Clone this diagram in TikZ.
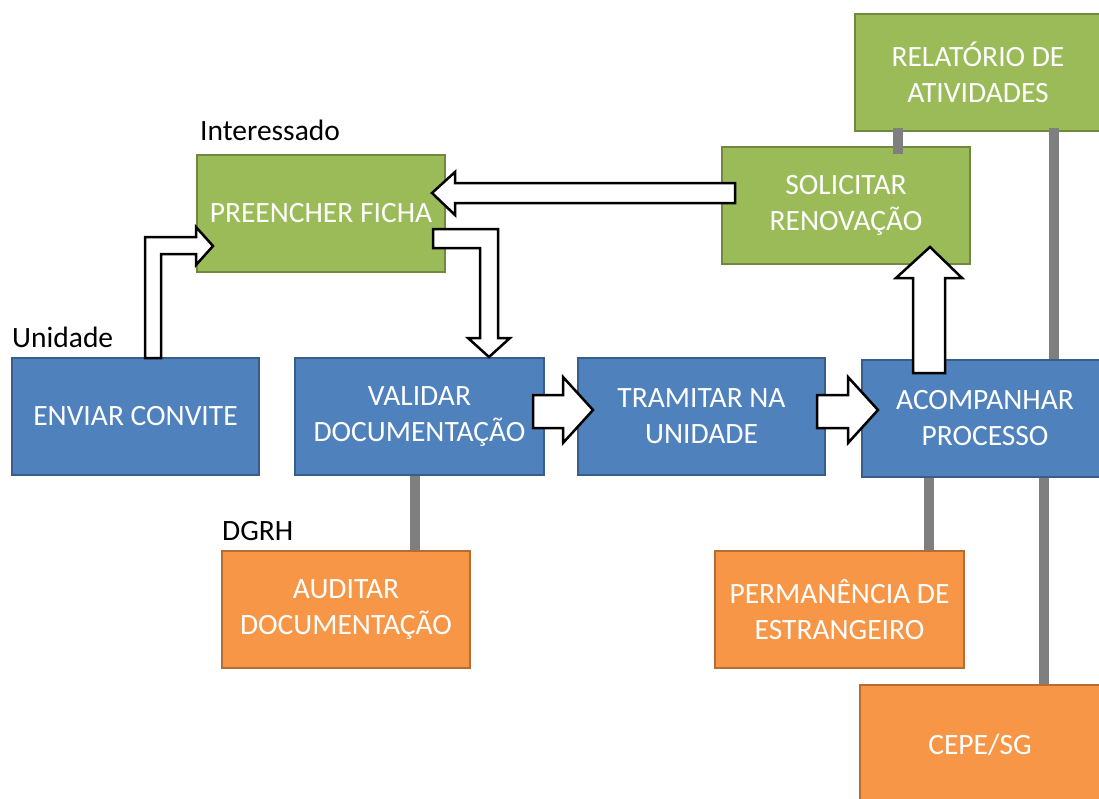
\documentclass[tikz,border=0pt]{standalone}
\usepackage{fontspec}
\setmainfont{Carlito}
\definecolor{gfill}{HTML}{9BBB59}
\definecolor{gline}{HTML}{71893F}
\definecolor{bfill}{HTML}{4F81BD}
\definecolor{bline}{HTML}{385D8A}
\definecolor{ofill}{HTML}{F79646}
\definecolor{oline}{HTML}{B66D31}
\definecolor{lnk}{HTML}{7F7F7F}
\begin{document}
\begin{tikzpicture}[x=1pt,y=-1pt,
  box/.style={rectangle,draw,line width=1.8pt,inner sep=0pt,text=white,align=center,
    font=\fontsize{29.5}{36}\selectfont},
  gbox/.style={box,fill=gfill,draw=gline},
  bbox/.style={box,fill=bfill,draw=bline},
  obox/.style={box,fill=ofill,draw=oline},
  lbl/.style={anchor=base west,inner sep=0pt,font=\fontsize{29.5}{32}\selectfont},
  link/.style={draw=lnk,line width=10pt},
  barrow/.style={draw=black,fill=white,line width=2.5pt,line join=miter}]
\useasboundingbox (0,0) rectangle (1099,798);
% boxes
\node[gbox,minimum width=248pt,minimum height=117pt] (fill) at (321,213.5) {PREENCHER FICHA};
\node[gbox,minimum width=248pt,minimum height=117pt] (solic) at (846,205.5) {SOLICITAR\\RENOVAÇÃO};
\node[gbox,minimum width=246pt,minimum height=117pt] (rel) at (978,72.5) {RELATÓRIO DE\\ATIVIDADES};
\node[bbox,minimum width=247pt,minimum height=117pt] (envi) at (135.5,416.5) {ENVIAR CONVITE};
\node[bbox,minimum width=249pt,minimum height=117pt] (valid) at (419.5,416.5) {VALIDAR\\DOCUMENTAÇÃO};
\node[bbox,minimum width=247pt,minimum height=117pt] (tram) at (701.5,416.5) {TRAMITAR NA\\UNIDADE};
\node[bbox,minimum width=246pt,minimum height=117pt] (acomp) at (985,418.5) {ACOMPANHAR\\PROCESSO};
\node[obox,minimum width=248pt,minimum height=117pt] (audit) at (346,609.5) {AUDITAR\\DOCUMENTAÇÃO};
\node[obox,minimum width=249pt,minimum height=117pt] (perm) at (839.5,609.5) {PERMANÊNCIA DE\\ESTRANGEIRO};
\node[obox,minimum width=240pt,minimum height=120pt] (cepe) at (980,745) {CEPE/SG};
% labels
\node[lbl] (lint) at (200,140) {Interessado};
\node[lbl] (luni) at (12,347) {Unidade};
\node[lbl] (ldgrh) at (222,540) {DGRH};
% gray links
\draw[link] ([xshift=-4.5pt]valid.south) -- ([xshift=-4.5pt]valid.south |- audit.north);
\draw[link] ([xshift=-36pt]perm.north east) -- ([xshift=-36pt]perm.north east |- acomp.south);
\draw[link] ([xshift=64pt]cepe.north) -- ([xshift=64pt]cepe.north |- acomp.south);
\draw[link] ([xshift=44pt,yshift=4pt]rel.south west) -- ([xshift=44pt,yshift=-8pt]rel.south west |- solic.north);
\draw[link] ([xshift=200pt,yshift=4pt]rel.south west) -- ([xshift=200pt]rel.south west |- acomp.north);
% block arrows
\draw[barrow] (145,358) -- (145,237) -- (196,237) -- (196,227) -- (213,246) -- (196,265) -- (196,254) -- (161,254) -- (161,358) -- cycle;
\draw[barrow] (433,229) -- (498,229) -- (498,338) -- (510,338) -- (489,357) -- (468,338) -- (480,338) -- (480,248) -- (433,248) -- cycle;
\draw[barrow] (735,183) -- (455,183) -- (455,172) -- (432,193) -- (455,215) -- (455,203) -- (735,203) -- cycle;
\draw[barrow] (533,395) -- (563,395) -- (563,377) -- (593,410) -- (563,443) -- (563,428) -- (533,428) -- cycle;
\draw[barrow] (817,395) -- (848,395) -- (848,377) -- (878,410) -- (848,443) -- (848,428) -- (817,428) -- cycle;
\draw[barrow] (913,373) -- (913,278) -- (896,278) -- (930,247) -- (962,278) -- (945,278) -- (945,373) -- cycle;
\end{tikzpicture}
\end{document}
